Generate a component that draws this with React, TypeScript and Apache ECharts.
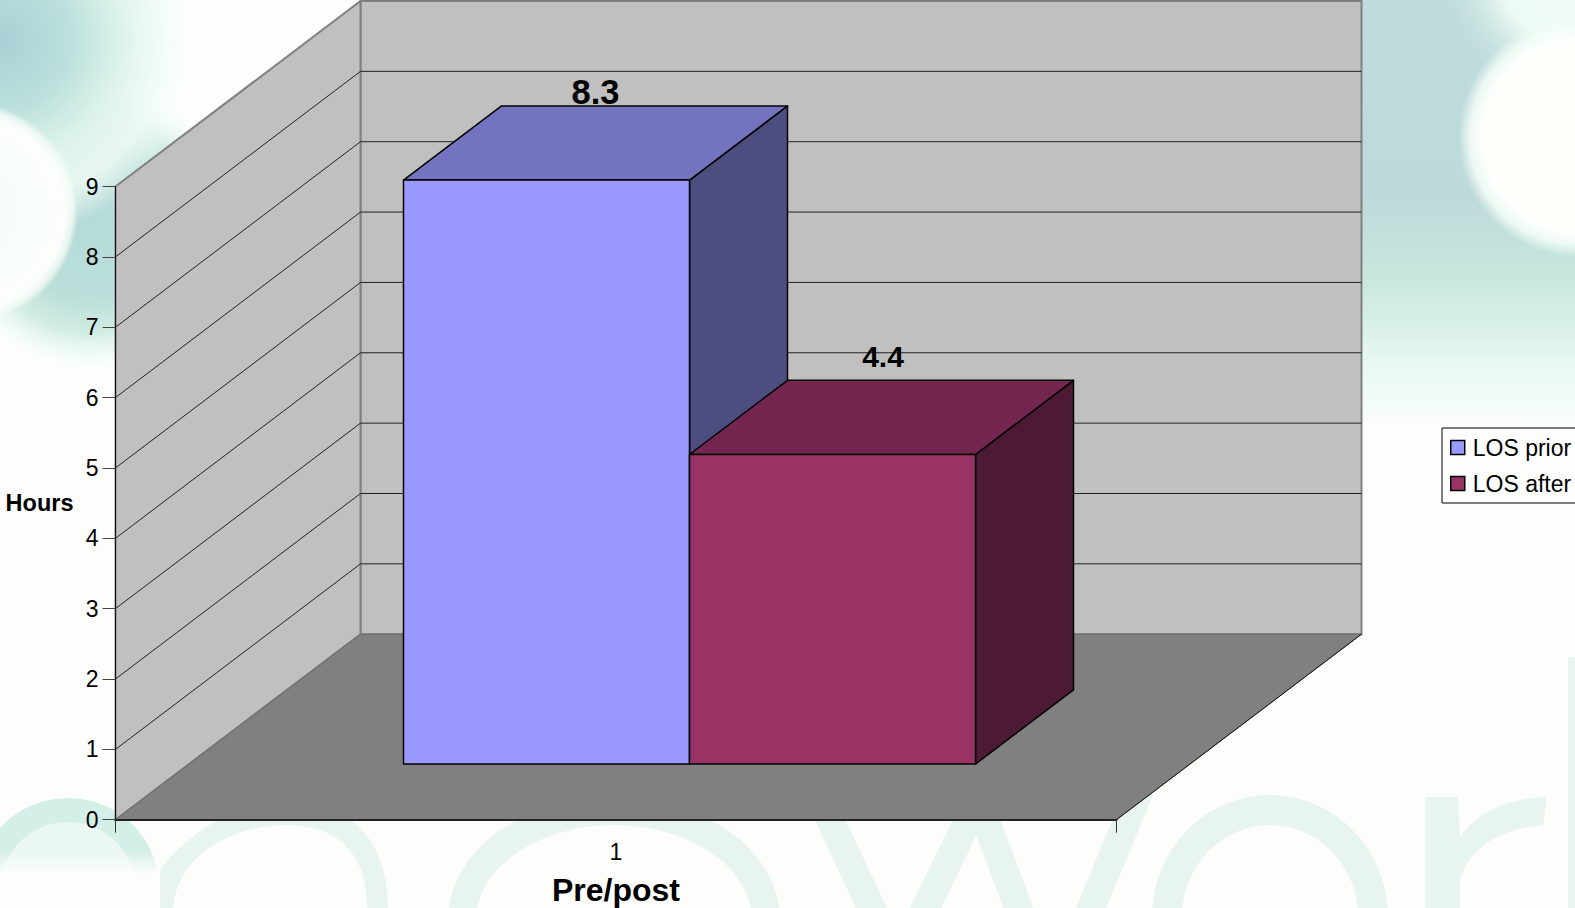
import React, { useEffect, useRef } from "react";
import * as echarts from "echarts";

const categories = ["1"];
const seriesNames = ["LOS prior", "LOS after"];
const losPrior = [8.3];
const losAfter = [4.4];
const valueTicks = [1, 2, 3, 4, 5, 6, 7, 8, 9];

const FONT = "Liberation Sans";
const DEPTH_X = 245;
const DEPTH_Y = 185.5;
const BAR_RATIO = 1 / 3.5;
const NEAR = 0.3;
const FAR = 0.7;

const barStyles = [
  { front: "#9999FF", top: "#7373BF", side: "#4D4D80", labelSize: 34.5, labelLift: -4, labelShift: 0, offset: -1 },
  { front: "#993366", top: "#732650", side: "#4D1A33", labelSize: 30, labelLift: 9, labelShift: 1.5, offset: 0 },
];

echarts.graphic.registerShape(
  "wmR",
  echarts.graphic.extendPath(
    "M1425 797 L1458 797 L1460 838 C1475 812 1510 798 1547 797 L1543 825 C1505 828 1470 845 1460 880 L1460 908 L1425 908 Z",
    {}
  )
);
echarts.graphic.registerShape(
  "wmN",
  echarts.graphic.extendPath(
    "M160 908 L160 870 C185 835 240 800 285 800 C345 800 388 835 388 908 L367 908 C367 850 335 825 285 825 C240 825 178 850 173 908 Z",
    {}
  )
);

function wallsItem(params: any, api: any) {
  const v = api.value(1);
  const cs = params.coordSys;
  const y = api.coord([0, v])[1];
  const left = cs.x;
  const right = cs.x + cs.width;
  const bottom = cs.y + cs.height;
  const top = cs.y;
  const children: any[] = [];
  if (params.dataIndex === 0) {
    children.push(
      {
        type: "polygon",
        shape: { points: [[left + DEPTH_X, top - DEPTH_Y], [right + DEPTH_X, top - DEPTH_Y], [right + DEPTH_X, bottom - DEPTH_Y], [left + DEPTH_X, bottom - DEPTH_Y]] },
        style: { fill: "#C0C0C0", stroke: "#808080", lineWidth: 2 },
      },
      {
        type: "polygon",
        shape: { points: [[left, top], [left + DEPTH_X, top - DEPTH_Y], [left + DEPTH_X, bottom - DEPTH_Y], [left, bottom]] },
        style: { fill: "#C0C0C0", stroke: "#808080", lineWidth: 2 },
      },
      {
        type: "polygon",
        shape: { points: [[left, bottom], [left + DEPTH_X, bottom - DEPTH_Y], [right + DEPTH_X, bottom - DEPTH_Y], [right, bottom]] },
        style: { fill: "#808080", stroke: "#6a6a6a", lineWidth: 1 },
      },
      {
        type: "polyline",
        shape: { points: [[right, bottom], [right + DEPTH_X, bottom - DEPTH_Y]] },
        style: { fill: "none", stroke: "#111", lineWidth: 1 },
      }
    );
  }
  if (v < 9) {
    children.push({
      type: "polyline",
      shape: { points: [[left, y], [left + DEPTH_X, y - DEPTH_Y], [right + DEPTH_X, y - DEPTH_Y]] },
      style: { fill: "none", stroke: "#222", lineWidth: 1 },
      z2: 2,
    });
  }
  return { type: "group", children };
}

function barItem(idx: number) {
  return (params: any, api: any) => {
    const s = barStyles[idx];
    const value = api.value(1);
    const center = api.coord([api.value(0), value]);
    const base = api.coord([api.value(0), 0]);
    const band = api.size([1, 0])[0];
    const w = band * BAR_RATIO;
    const dx = DEPTH_X * (FAR - NEAR);
    const dy = DEPTH_Y * (FAR - NEAR);
    const x0 = center[0] + s.offset * w + DEPTH_X * NEAR;
    const x1 = x0 + w;
    const yT = center[1] - DEPTH_Y * NEAR;
    const yB = base[1] - DEPTH_Y * NEAR;
    const edge = { stroke: "#000", lineWidth: 1.5, lineJoin: "round" };
    return {
      type: "group",
      children: [
        { type: "polygon", shape: { points: [[x1, yT], [x1 + dx, yT - dy], [x1 + dx, yB - dy], [x1, yB]] }, style: { fill: s.side, ...edge } },
        { type: "polygon", shape: { points: [[x0, yT], [x0 + dx, yT - dy], [x1 + dx, yT - dy], [x1, yT]] }, style: { fill: s.top, ...edge } },
        { type: "polygon", shape: { points: [[x0, yT], [x1, yT], [x1, yB], [x0, yB]] }, style: { fill: s.front, ...edge } },
        {
          type: "text",
          z2: 5,
          style: {
            text: String(value),
            x: x0 + w / 2 + dx / 2 + s.labelShift,
            y: yT - dy - s.labelLift,
            align: "center",
            verticalAlign: "bottom",
            fontFamily: FONT,
            fontWeight: "bold",
            fontSize: s.labelSize,
            fill: "#000",
          },
        },
      ],
    };
  };
}

function radial(stops: [number, string][]) {
  return {
    type: "radial",
    x: 0.5,
    y: 0.5,
    r: 0.5,
    colorStops: stops.map(([offset, color]) => ({ offset, color })),
  };
}

const WM = "#e8f4f0";

const background: any[] = [
  { type: "rect", shape: { x: 0, y: 0, width: 1575, height: 908 }, style: { fill: "#fdfefc" } },
  // top-left glows and globe
  {
    type: "circle",
    shape: { cx: 90, cy: 225, r: 150 },
    style: {
      fill: radial([
        [0, "#b5dad8"],
        [0.5, "#bcdfda"],
        [0.72, "#d2ede3"],
        [0.88, "rgba(240,251,246,0.7)"],
        [1, "rgba(253,254,252,0)"],
      ]),
    },
  },
  {
    type: "circle",
    shape: { cx: 0, cy: 40, r: 200 },
    style: {
      fill: radial([
        [0, "#a8d0d5"],
        [0.35, "#bde0dc"],
        [0.6, "#dcf3ea"],
        [0.82, "rgba(240,252,246,0.8)"],
        [1, "rgba(253,254,252,0)"],
      ]),
    },
  },
  {
    type: "circle",
    shape: { cx: -32, cy: 212, r: 110 },
    style: {
      fill: radial([
        [0, "#f3fbf6"],
        [0.88, "#fbfefb"],
        [0.95, "rgba(250,254,250,0.7)"],
        [1, "rgba(250,254,250,0)"],
      ]),
    },
  },
  // top-right band and globe
  {
    type: "rect",
    shape: { x: 1360, y: 0, width: 215, height: 430 },
    style: {
      fill: {
        type: "linear",
        x: 0,
        y: 0,
        x2: 0,
        y2: 1,
        colorStops: [
          { offset: 0, color: "#bfdcdc" },
          { offset: 0.45, color: "#bdd9da" },
          { offset: 0.65, color: "#c8e8de" },
          { offset: 0.85, color: "#e8f9f0" },
          { offset: 1, color: "#fdfefc" },
        ],
      },
    },
  },
  {
    type: "circle",
    shape: { cx: 1575, cy: -30, r: 135 },
    style: {
      fill: radial([
        [0, "#f5fdf9"],
        [0.55, "#eefbf5"],
        [1, "rgba(200,230,224,0)"],
      ]),
    },
  },
  {
    type: "circle",
    shape: { cx: 1578, cy: 137, r: 120 },
    style: {
      fill: radial([
        [0, "#fefffb"],
        [0.8, "#fdfffb"],
        [0.9, "rgba(245,254,248,0.85)"],
        [1, "rgba(240,252,246,0)"],
      ]),
    },
  },
  // lower watermark
  {
    type: "ellipse",
    shape: { cx: 68, cy: 885, rx: 78, ry: 75 },
    style: { fill: "#eaf7f3", stroke: "#d4efe7", lineWidth: 24 },
  },
  {
    type: "rect",
    shape: { x: 0, y: 850, width: 172, height: 58 },
    style: {
      fill: {
        type: "linear",
        x: 0,
        y: 0,
        x2: 0,
        y2: 1,
        colorStops: [
          { offset: 0, color: "rgba(251,254,251,0)" },
          { offset: 0.4, color: "rgba(251,254,251,1)" },
          { offset: 1, color: "rgba(251,254,251,1)" },
        ],
      },
    },
  },
  { type: "wmN", style: { fill: WM } },
  { type: "ellipse", shape: { cx: 614, cy: 920, rx: 152, ry: 109 }, style: { fill: "none", stroke: WM, lineWidth: 28 } },
  { type: "polyline", shape: { points: [[800, 755], [898, 965], [978, 800], [1053, 1000], [1140, 790]] }, style: { fill: "none", stroke: WM, lineWidth: 28 } },
  { type: "ellipse", shape: { cx: 1270, cy: 917, rx: 103, ry: 107 }, style: { fill: "none", stroke: WM, lineWidth: 30 } },
  { type: "wmR", style: { fill: WM } },
  { type: "rect", shape: { x: 1568, y: 657, width: 7, height: 251 }, style: { fill: WM } },
].map((g) => ({ ...g, silent: true, z: -10 }));

export default function App() {
  const ref = useRef<HTMLDivElement>(null);
  useEffect(() => {
    const chart = echarts.init(ref.current!, undefined, { renderer: "svg" });
    chart.setOption({
      animation: false,
      textStyle: { fontFamily: FONT },
      graphic: { elements: background },
      legend: {
        data: seriesNames,
        orient: "vertical",
        left: 1442,
        top: 428,
        padding: [8, 8, 8, 8],
        itemGap: 13,
        itemWidth: 14,
        itemHeight: 14,
        icon: "rect",
        itemStyle: { borderColor: "#000", borderWidth: 1.5 },
        borderColor: "#000",
        borderWidth: 1,
        textStyle: { fontFamily: FONT, fontSize: 23, color: "#000", padding: [0, 0, 0, 3] },
        selectedMode: false,
      },
      grid: { left: 115.5, top: 186.5, width: 1001, height: 633.2, outerBoundsMode: "none" },
      xAxis: {
        type: "category",
        data: categories,
        z: 5,
        boundaryGap: true,
        axisLine: { lineStyle: { color: "#222", width: 2 } },
        axisTick: { show: true, length: 13, alignWithLabel: false, lineStyle: { color: "#333" } },
        axisLabel: { fontFamily: FONT, fontSize: 23, color: "#000", margin: 21 },
        name: "Pre/post",
        nameLocation: "middle",
        nameGap: 54,
        nameMoveOverlap: false,
        nameTextStyle: { fontFamily: FONT, fontSize: 32, fontWeight: "bold", color: "#000" },
      },
      yAxis: {
        type: "value",
        min: 0,
        max: 9,
        interval: 1,
        z: 5,
        splitLine: { show: false },
        axisLine: { show: true, lineStyle: { color: "#111", width: 1 } },
        axisTick: { show: true, length: 13, lineStyle: { color: "#444" } },
        axisLabel: { fontFamily: FONT, fontSize: 23, color: "#000", margin: 17 },
        name: "Hours",
        nameLocation: "middle",
        nameRotate: 0,
        nameGap: 42,
        nameMoveOverlap: false,
        nameTextStyle: { fontFamily: FONT, fontSize: 23.5, fontWeight: "bold", color: "#000", align: "right", verticalAlign: "middle" },
      },
      series: [
        {
          type: "custom",
          name: "walls",
          silent: true,
          z: 1,
          clip: false,
          renderItem: wallsItem,
          data: valueTicks.map((v) => [0, v]),
          encode: { x: 0, y: 1 },
        },
        ...[losPrior, losAfter].map((values, i) => ({
          type: "custom",
          name: seriesNames[i],
          z: 2 + i,
          clip: false,
          renderItem: barItem(i),
          itemStyle: { color: barStyles[i].front },
          data: values.map((v, c) => [c, v]),
          encode: { x: 0, y: 1 },
        })),
      ],
    });
    return () => chart.dispose();
  }, []);
  return <div ref={ref} style={{ position: "absolute", left: 0, top: 0, width: 1575, height: 908 }} />;
}
